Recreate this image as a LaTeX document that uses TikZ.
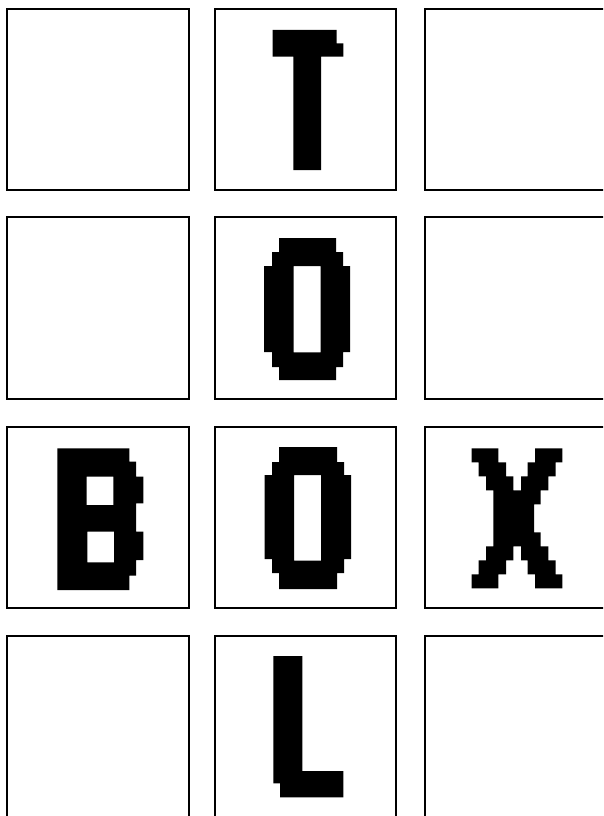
\documentclass[tikz,border=0pt]{standalone}
\usepackage{tikz}

\begin{document}
\begin{tikzpicture}[x=0.03cm,y=-0.03cm,
  box/.style={draw=black,line width=2.4pt},
  glyph/.style={fill=black,even odd rule}]
\useasboundingbox (0,0) rectangle (603,816);
\clip (0,0) rectangle (603,816);
\fill[white] (0,0) rectangle (603,816);
% the twelve frames
\foreach \xa/\xb in {7/189,215/396,425/610}
  \foreach \ya/\yb in {9/190,217/399,427/608,636/822}
    \draw[box] (\xa,\ya) rectangle (\xb,\yb);
% T
\fill[glyph] (272.7,30) -- (336.7,30) -- (336.7,43.3) -- (343.3,43.3) -- (343.3,56.7)
  -- (321,56.7) -- (321,170) -- (293.3,170) -- (293.3,56.7) -- (272.7,56.7) -- cycle;
% O, upper
\fill[glyph] (279,238) -- (336,238) -- (336,252) -- (343,252) -- (343,266) -- (350,266)
  -- (350,352) -- (343,352) -- (343,367) -- (336,367) -- (336,380) -- (279,380)
  -- (279,367) -- (272,367) -- (272,352) -- (264,352) -- (264,266) -- (272,266)
  -- (272,252) -- (279,252) -- cycle
  (293.5,266) rectangle (320.5,352.3);
% O, lower
\fill[glyph] (279,447) -- (337,447) -- (337,462) -- (344,462) -- (344,475) -- (351,475)
  -- (351,559) -- (344,559) -- (344,573) -- (337,573) -- (337,589) -- (279,589)
  -- (279,573) -- (272,573) -- (272,559) -- (264.5,559) -- (264.5,475) -- (272,475)
  -- (272,462) -- (279,462) -- cycle
  (294,475) rectangle (321,560.7);
% B
\fill[glyph] (57.3,448.3) -- (129.3,448.3) -- (129.3,461.7) -- (136,461.7) -- (136,476.7)
  -- (143.3,476.7) -- (143.3,503.3) -- (136,503.3) -- (136,531.7) -- (143.3,531.7)
  -- (143.3,560) -- (136,560) -- (136,575.7) -- (129.3,575.7) -- (129.3,590)
  -- (57.3,590) -- cycle
  (86.7,476.7) rectangle (113.3,505)
  (87.3,531.7) rectangle (114,562.3);
% X
\fill[glyph] (471.7,448.3) -- (498.3,448.3) -- (498.3,462.3) -- (506,462.3) -- (506,476.3)
  -- (513.3,476.3) -- (513.3,490.3) -- (521,490.3) -- (521,476.3) -- (527.7,476.3)
  -- (527.7,462.3) -- (535,462.3) -- (535,448.3) -- (562.3,448.3) -- (562.3,462.3)
  -- (555.7,462.3) -- (555.7,476.3) -- (548.3,476.3) -- (548.3,490.3) -- (540.7,490.3)
  -- (540.7,504.3) -- (534,504.3) -- (534,532.3) -- (540.7,532.3) -- (540.7,546.3)
  -- (548.3,546.3) -- (548.3,560.3) -- (555.7,560.3) -- (555.7,574.3) -- (562.3,574.3)
  -- (562.3,588.3) -- (535,588.3) -- (535,574.3) -- (527.7,574.3) -- (527.7,560.3)
  -- (521,560.3) -- (521,546.3) -- (513.3,546.3) -- (513.3,560.3) -- (506,560.3)
  -- (506,574.3) -- (498.3,574.3) -- (498.3,588.3) -- (471.7,588.3) -- (471.7,574.3)
  -- (478.7,574.3) -- (478.7,560.3) -- (486,560.3) -- (486,546.3) -- (493.3,546.3)
  -- (493.3,490.3) -- (486,490.3) -- (486,476.3) -- (478.7,476.3) -- (478.7,462.3)
  -- (471.7,462.3) -- cycle;
% L
\fill[glyph] (273.3,656) -- (302.3,656) -- (302.3,771) -- (343.3,771) -- (343.3,797.3)
  -- (280,797.3) -- (280,783.3) -- (273.3,783.3) -- cycle;
\end{tikzpicture}
\end{document}
